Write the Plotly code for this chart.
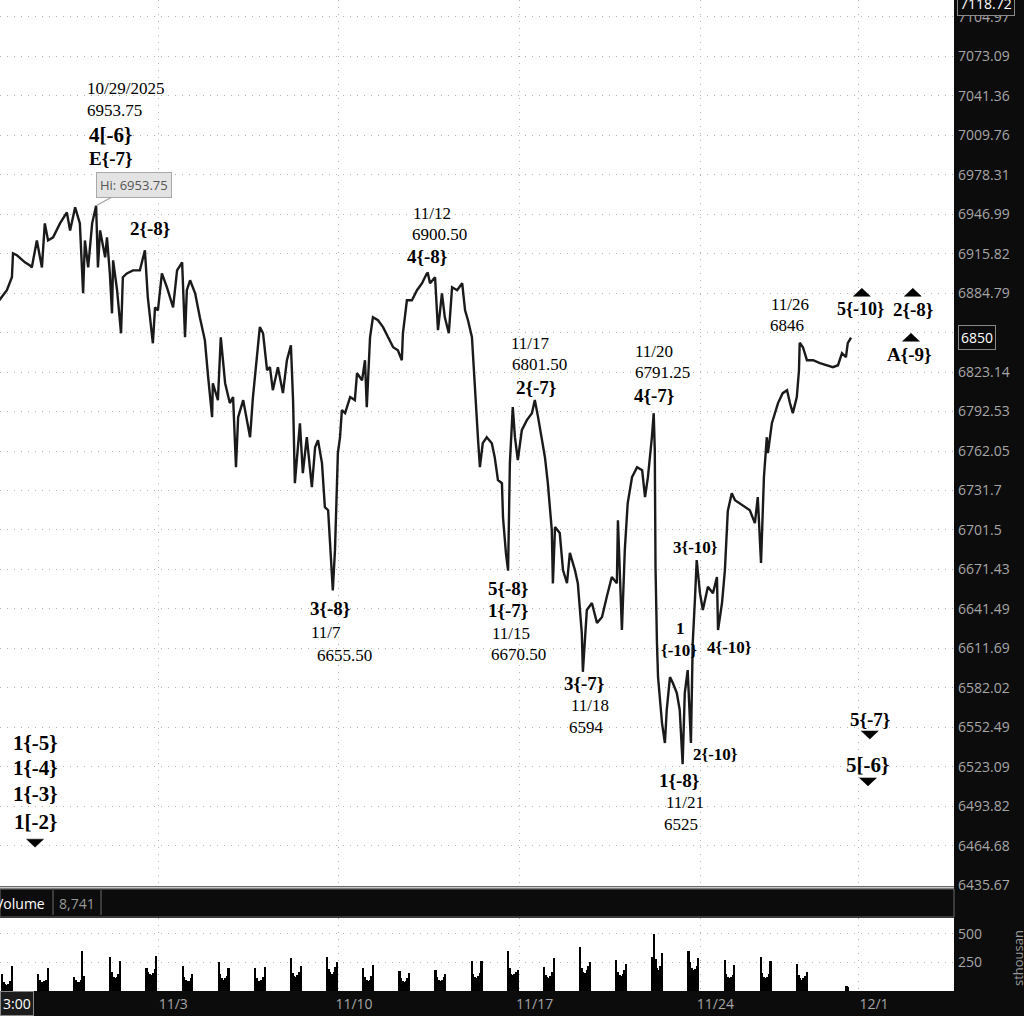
import numpy as np
import plotly.graph_objects as go

# x = trading sessions counted from the 11/3 session open (weekends removed)
price_t = [
    -4.40, -4.19, -4.05, -4.02, -3.91, -3.69, -3.55, -3.50, -3.36, -3.22,
    -3.14, -3.05, -2.91, -2.72, -2.53, -2.44, -2.30, -2.17, -2.08, -2.03,
    -1.94, -1.83, -1.72, -1.67, -1.61, -1.47, -1.42, -1.34, -1.28, -1.25,
    -1.14, -1.03, -0.98, -0.87, -0.70, -0.51, -0.37, -0.29, -0.15, -0.09,
    -0.01, 0.10, 0.24, 0.41, 0.52, 0.66, 0.74, 0.79, 0.88, 1.02,
    1.15, 1.29, 1.38, 1.49, 1.51, 1.65, 1.73, 1.85, 1.98, 2.07,
    2.15, 2.21, 2.35, 2.54, 2.62, 2.73, 2.81, 2.90, 3.01, 3.09,
    3.17, 3.31, 3.45, 3.56, 3.67, 3.73, 3.78, 3.92, 4.00, 4.11,
    4.25, 4.34, 4.42, 4.53, 4.61, 4.70, 4.81, 4.83, 4.89, 4.97,
    5.03, 5.08, 5.17, 5.31, 5.44, 5.50, 5.64, 5.72, 5.77, 5.86,
    5.94, 6.08, 6.22, 6.36, 6.50, 6.63, 6.74, 6.77, 6.88, 7.02,
    7.16, 7.30, 7.43, 7.46, 7.52, 7.66, 7.74, 7.85, 7.93, 8.04,
    8.13, 8.27, 8.41, 8.49, 8.57, 8.68, 8.74, 8.79, 8.85, 8.90,
    8.98, 9.09, 9.23, 9.31, 9.40, 9.51, 9.54, 9.62, 9.68, 9.73,
    9.81, 9.87, 9.95, 10.06, 10.20, 10.34, 10.42, 10.51, 10.62, 10.70,
    10.78, 10.89, 10.92, 10.98, 11.11, 11.20, 11.31, 11.39, 11.53, 11.61,
    11.72, 11.75, 11.86, 12.00, 12.14, 12.28, 12.41, 12.55, 12.69, 12.72,
    12.83, 12.91, 12.99, 13.11, 13.25, 13.39, 13.47, 13.55, 13.66, 13.71,
    13.74, 13.76, 13.80, 13.83, 13.94, 14.02, 14.07, 14.16, 14.24, 14.35,
    14.43, 14.51, 14.57, 14.65, 14.74, 14.79, 14.85, 14.90, 14.99, 15.07,
    15.21, 15.35, 15.46, 15.49, 15.60, 15.68, 15.76, 15.87, 15.96, 16.09,
    16.23, 16.37, 16.51, 16.59, 16.68, 16.73, 16.76, 16.84, 16.87, 16.98,
    17.06, 17.15, 17.28, 17.40, 17.48, 17.56, 17.67, 17.73, 17.75, 17.84,
    17.95, 18.12, 18.31, 18.50, 18.67, 18.81, 18.92, 19.03, 19.08, 19.17,
]
price = [
    6879.2, 6887.1, 6897.3, 6916.1, 6914.6, 6909.0, 6906.6, 6905.0, 6926.3, 6905.0,
    6939.8, 6926.3, 6928.7, 6939.8, 6948.5, 6934.2, 6952.5, 6939.8, 6884.7, 6926.3,
    6905.0, 6939.8, 6953.75, 6905.0, 6934.2, 6913.0, 6928.7, 6900.3, 6869.0, 6910.6,
    6887.1, 6853.4, 6897.3, 6900.3, 6902.7, 6902.7, 6918.5, 6881.6, 6845.6, 6873.7,
    6871.3, 6900.3, 6889.4, 6873.7, 6902.7, 6909.0, 6850.3, 6887.1, 6894.9, 6884.7,
    6865.9, 6847.9, 6819.2, 6788.2, 6814.5, 6801.4, 6850.3, 6814.5, 6799.1, 6803.8,
    6749.6, 6788.2, 6801.4, 6772.7, 6803.8, 6832.4, 6858.2, 6853.4, 6824.6, 6827.0,
    6809.1, 6827.0, 6806.8, 6832.4, 6844.1, 6801.4, 6737.3, 6783.5, 6745.0, 6772.7,
    6734.2, 6765.0, 6770.4, 6752.7, 6718.9, 6716.6, 6668.6, 6655.5, 6686.1, 6760.4,
    6772.7, 6793.6, 6791.3, 6803.8, 6801.4, 6822.3, 6816.8, 6832.4, 6796.0, 6850.3,
    6865.9, 6863.6, 6858.2, 6850.3, 6842.5, 6840.2, 6832.4, 6853.4, 6879.2, 6879.2,
    6887.1, 6892.6, 6900.3, 6900.5, 6892.6, 6897.3, 6855.8, 6884.7, 6865.9, 6853.4,
    6889.4, 6887.1, 6892.6, 6871.3, 6863.6, 6850.3, 6819.2, 6793.6, 6770.4, 6749.6,
    6768.1, 6772.7, 6768.1, 6757.3, 6739.6, 6737.3, 6711.0, 6684.0, 6670.5, 6752.7,
    6796.0, 6772.7, 6755.0, 6778.1, 6785.9, 6791.3, 6801.5, 6788.2, 6768.1, 6757.3,
    6737.3, 6701.3, 6660.8, 6703.7, 6699.1, 6670.9, 6660.9, 6684.0, 6670.9, 6660.9,
    6623.2, 6594.0, 6640.6, 6645.9, 6630.8, 6635.3, 6650.5, 6665.6, 6660.9, 6708.9,
    6625.5, 6686.1, 6721.9, 6741.9, 6749.6, 6747.3, 6726.6, 6741.9, 6772.7, 6791.25,
    6762.7, 6673.2, 6615.7, 6590.1, 6555.6, 6540.7, 6565.4, 6590.1, 6585.6, 6578.0,
    6565.4, 6525.0, 6578.0, 6595.3, 6540.7, 6615.7, 6648.2, 6678.5, 6653.4, 6640.6,
    6658.3, 6653.4, 6665.6, 6625.5, 6645.9, 6670.9, 6715.9, 6729.6, 6724.3, 6722.0,
    6718.9, 6716.6, 6706.7, 6726.6, 6676.3, 6718.9, 6741.9, 6772.7, 6760.4, 6783.5,
    6791.3, 6799.1, 6806.8, 6809.1, 6799.1, 6791.3, 6803.8, 6824.6, 6846.0, 6842.5,
    6832.4, 6832.4, 6830.1, 6828.5, 6827.0, 6828.5, 6837.9, 6834.8, 6845.7, 6850.0,
]

price_ticks = [7104.97, 7073.09, 7041.36, 7009.76, 6978.31, 6946.99, 6915.82, 6884.79,
               6853.90, 6823.14, 6792.53, 6762.05, 6731.7, 6701.5, 6671.43, 6641.49,
               6611.69, 6582.02, 6552.49, 6523.09, 6493.82, 6464.68, 6435.67]
price_tick_text = [str(v) for v in price_ticks]
price_tick_text[8] = ""  # covered by the last-price box

date_ticks = [0, 5, 10, 15, 19.39]
date_labels = ["11/3", "11/10", "11/17", "11/24", "12/1"]

# volume, regular session clusters (thousands)
vol_dates = ["10/27", "10/28", "10/29", "10/30", "10/31", "11/3", "11/4", "11/5",
             "11/6", "11/7", "11/10", "11/11", "11/12", "11/13", "11/14", "11/17",
             "11/18", "11/19", "11/20", "11/21", "11/24", "11/25", "11/26", "11/28"]
vol_start = [-4.32, -3.32, -2.32, -1.32, -0.32, 0.68, 1.68, 2.68, 3.68, 4.68, 5.68,
             6.68, 7.68, 8.68, 9.68, 10.68, 11.68, 12.68, 13.68, 14.68, 15.68, 16.68,
             17.68, 19.05]
vol_bars = [
    [150, 80, 60, 55, 60, 90, 218],
    [150, 95, 80, 75, 85, 100, 205],
    [125, 95, 80, 80, 100, 353, 130],
    [300, 170, 120, 110, 120, 150, 262],
    [205, 165, 150, 140, 155, 190, 305],
    [218, 120, 95, 85, 90, 110, 150],
    [250, 150, 115, 100, 110, 130, 205],
    [205, 110, 90, 85, 95, 120, 210],
    [285, 160, 130, 120, 140, 170, 218],
    [294, 190, 165, 150, 170, 210, 255],
    [205, 120, 95, 85, 95, 130, 232],
    [173, 110, 85, 80, 90, 110, 160],
    [188, 120, 95, 90, 100, 120, 153],
    [262, 150, 120, 115, 130, 160, 262],
    [353, 200, 150, 140, 150, 170, 182],
    [212, 140, 120, 110, 130, 170, 291],
    [388, 200, 170, 160, 180, 220, 256],
    [276, 170, 140, 130, 150, 180, 241],
    [300, 500, 280, 200, 180, 220, 330],
    [353, 250, 200, 180, 190, 220, 285],
    [276, 150, 120, 110, 120, 140, 232],
    [300, 160, 120, 110, 120, 150, 262],
    [235, 140, 110, 100, 110, 130, 168],
    [41, 35],
]

# wave labels: text, session position, price, font size, bold, anchor
labels = [
    ("10/29/2025", -2.03, 7047.4, 17, False, "left"),
    ("6953.75", -2.03, 7029.7, 17, False, "left"),
    ("4[-6}", -1.97, 7009.8, 21, True, "left"),
    ("E{-7}", -1.97, 6991.3, 19, True, "left"),
    ("2{-8}", -0.23, 6935.8, 19, True, "center"),
    ("11/12", 7.58, 6947.7, 17, False, "center"),
    ("6900.50", 7.77, 6931.1, 17, False, "center"),
    ("4{-8}", 7.43, 6913.8, 19, True, "center"),
    ("3{-8}", 4.75, 6642.1, 19, True, "center"),
    ("11/7", 4.64, 6624.0, 17, False, "center"),
    ("6655.50", 5.14, 6606.6, 17, False, "center"),
    ("11/17", 10.31, 6845.6, 17, False, "center"),
    ("6801.50", 10.56, 6829.2, 17, False, "center"),
    ("2{-7}", 10.45, 6811.4, 19, True, "center"),
    ("5{-8}", 9.68, 6657.2, 19, True, "center"),
    ("1{-7}", 9.68, 6640.6, 19, True, "center"),
    ("11/15", 9.76, 6623.2, 17, False, "center"),
    ("6670.50", 9.98, 6607.3, 17, False, "center"),
    ("11/20", 13.71, 6839.4, 17, False, "center"),
    ("6791.25", 13.94, 6823.1, 17, False, "center"),
    ("4{-7}", 13.71, 6805.1, 19, True, "center"),
    ("3{-7}", 11.78, 6585.6, 19, True, "center"),
    ("11/18", 11.95, 6569.0, 17, False, "center"),
    ("6594", 11.86, 6552.6, 17, False, "center"),
    ("3{-10}", 14.86, 6688.4, 17, True, "center"),
    ("1", 14.44, 6626.3, 17, True, "center"),
    ("{-10}", 14.41, 6609.7, 17, True, "center"),
    ("4{-10}", 15.82, 6612.6, 17, True, "center"),
    ("2{-10}", 15.41, 6532.5, 17, True, "center"),
    ("1{-8}", 14.41, 6513.2, 19, True, "center"),
    ("11/21", 14.57, 6496.9, 17, False, "center"),
    ("6525", 14.46, 6480.6, 17, False, "center"),
    ("11/26", 17.48, 6876.2, 17, False, "center"),
    ("6846", 17.40, 6859.7, 17, False, "center"),
    ("5{-10}", 19.44, 6872.2, 18, True, "center"),
    ("2{-8}", 20.88, 6872.2, 19, True, "center"),
    ("A{-9}", 20.80, 6837.1, 19, True, "center"),
    ("5{-7}", 19.69, 6558.5, 19, True, "center"),
    ("5[-6}", 19.62, 6524.1, 21, True, "center"),
    ("1{-5}", -3.41, 6540.7, 21, True, "center"),
    ("1{-4}", -3.41, 6522.1, 21, True, "center"),
    ("1{-3}", -3.41, 6502.8, 21, True, "center"),
    ("1[-2}", -3.41, 6482.1, 21, True, "center"),
]
tri_up = [(19.47, 6885.5), (20.88, 6885.5), (20.83, 6850.3)]
tri_down = [(19.69, 6546.7), (19.64, 6511.8), (-3.41, 6466.5)]

hi_t, hi_p = -1.72, 6953.75
last_price = 6850
top_price = 7118.72

vx, vy = [], []
for start, vals in zip(vol_start, vol_bars):
    for k, v in enumerate(vals):
        vx.append(start + 0.045 * k)
        vy.append(v)

# flat triangle outlines around each marker point (half width 0.235 session, 4px tall)
half_w = 0.235
half_h = 4 * 1.139e-4
tx, ty = [], []
for pts, up in ((tri_up, True), (tri_down, False)):
    for t, p in pts:
        base = p * (1 - half_h) if up else p * (1 + half_h)
        tip = p * (1 + half_h) if up else p * (1 - half_h)
        tx += [t - half_w, t + half_w, t, t - half_w, None]
        ty += [base, base, tip, base, None]

fig = go.Figure()
fig.add_trace(go.Scatter(x=price_t, y=price, mode="lines",
                         line=dict(color="#1a1a1a", width=2.4),
                         xaxis="x", yaxis="y", hoverinfo="skip"))
fig.add_trace(go.Scatter(x=tx, y=ty, mode="lines", fill="toself", fillcolor="black",
                         line=dict(color="black", width=0.5),
                         xaxis="x", yaxis="y", hoverinfo="skip"))
fig.add_trace(go.Bar(x=vx, y=vy, width=0.046, marker=dict(color="black", line_width=0),
                     xaxis="x2", yaxis="y2", hoverinfo="skip"))

grid = dict(showgrid=True, gridcolor="#b4b4b4", griddash="1px,6px", gridwidth=1,
            zeroline=False, showline=False, ticks="")
axfont = dict(family="Open Sans", size=14, color="#a6a6a6")

H = 991.0  # plot area height in px
fig.update_layout(
    width=1024, height=1016,
    margin=dict(l=0, r=70, t=0, b=25),
    paper_bgcolor="#0c0c0c", plot_bgcolor="white",
    showlegend=False, bargap=0,
    xaxis=dict(domain=[0, 1], anchor="y", range=[-4.38, 22.02], tickvals=date_ticks,
               showticklabels=False, **grid),
    xaxis2=dict(domain=[0, 1], anchor="y2", matches="x", tickvals=date_ticks,
                ticktext=date_labels, tickfont=axfont, ticklabelshift=15,
                ticklabelstandoff=3, **grid),
    yaxis=dict(domain=[(H - 886) / H, 1], anchor="x", type="log", side="right",
               range=[np.log10(6435.0), np.log10(top_price)],
               tickvals=price_ticks, ticktext=price_tick_text, tickfont=axfont,
               ticklabelstandoff=3, **grid),
    yaxis2=dict(domain=[0, (H - 918) / H], anchor="x2", side="right", range=[0, 640],
                tickvals=[250, 500], ticktext=["250", "500"], tickfont=axfont,
                ticklabelstandoff=3, **grid),
)

serif = "Liberation Serif"
for text, t, p, size, bold, anchor in labels:
    fig.add_annotation(x=t, y=np.log10(p), xref="x", yref="y",
                       text=f"<b>{text}</b>" if bold else text, showarrow=False,
                       xanchor=anchor, yanchor="middle",
                       font=dict(family=serif, size=size, color="black"))

# high bubble
fig.add_annotation(x=hi_t, y=np.log10(hi_p), xref="x", yref="y", text="Hi: 6953.75",
                   showarrow=True, arrowhead=0, arrowwidth=1.2, arrowcolor="#a0a0a0",
                   ax=38, ay=-21, bgcolor="#e3e3e3", bordercolor="#a8a8a8",
                   borderwidth=1, borderpad=3,
                   font=dict(family="Open Sans", size=13, color="#555555"))

# volume header strip between panes
fig.add_shape(type="rect", xref="paper", yref="paper", x0=0, x1=1,
              y0=(H - 917) / H, y1=(H - 889) / H, line=dict(color="#6a6a6a", width=1),
              fillcolor="#0c0c0c")
fig.add_shape(type="line", xref="paper", yref="paper", x0=0, x1=1,
              y0=(H - 887.5) / H, y1=(H - 887.5) / H, line=dict(color="#c8c8c8", width=2))
for px in (53, 101):
    fig.add_shape(type="line", xref="paper", yref="paper", x0=px / 954, x1=px / 954,
                  y0=(H - 915) / H, y1=(H - 890) / H, line=dict(color="#6a6a6a", width=1))
fig.add_annotation(x=47 / 954, y=(H - 903) / H, xref="paper", yref="paper", text="Volume",
                   showarrow=False, xanchor="right", yanchor="middle",
                   font=dict(family="Open Sans", size=14, color="white"))
fig.add_annotation(x=77 / 954, y=(H - 903) / H, xref="paper", yref="paper", text="8,741",
                   showarrow=False, xanchor="center", yanchor="middle",
                   font=dict(family="Open Sans", size=14, color="#9a9a9a"))

# boxed readouts
fig.add_annotation(x=1 + 4 / 954, y=np.log10(last_price), xref="paper", yref="y",
                   text=str(last_price), showarrow=False, xanchor="left",
                   yanchor="middle", bgcolor="#0c0c0c", bordercolor="#8a8a8a",
                   borderwidth=1, borderpad=2,
                   font=dict(family="Open Sans", size=14, color="white"))
fig.add_annotation(x=1 + 3 / 954, y=1, xref="paper", yref="paper", yshift=-3,
                   text=f"{top_price:.2f}", showarrow=False, xanchor="left",
                   yanchor="middle", bgcolor="#0c0c0c", bordercolor="#8a8a8a",
                   borderwidth=1, borderpad=2,
                   font=dict(family="Open Sans", size=14, color="white"))
fig.add_annotation(x=0, y=(H - 1003) / H, xref="paper", yref="paper", text="3:00",
                   showarrow=False, xanchor="left", yanchor="middle", bgcolor="#1c1c1c",
                   bordercolor="#8a8a8a", borderwidth=1, borderpad=2,
                   font=dict(family="Open Sans", size=14, color="white"))
fig.add_annotation(x=1018 / 954, y=(H - 958) / H, xref="paper", yref="paper",
                   text="sthousan", textangle=-90, showarrow=False,
                   xanchor="center", yanchor="middle",
                   font=dict(family="Open Sans", size=13, color="#9a9a9a"))

# page body has a default 8px margin; drop it so the chart fills the window
fig.write_html("out.html", config={"displayModeBar": False},
               post_script="document.body.style.margin='0px';")
